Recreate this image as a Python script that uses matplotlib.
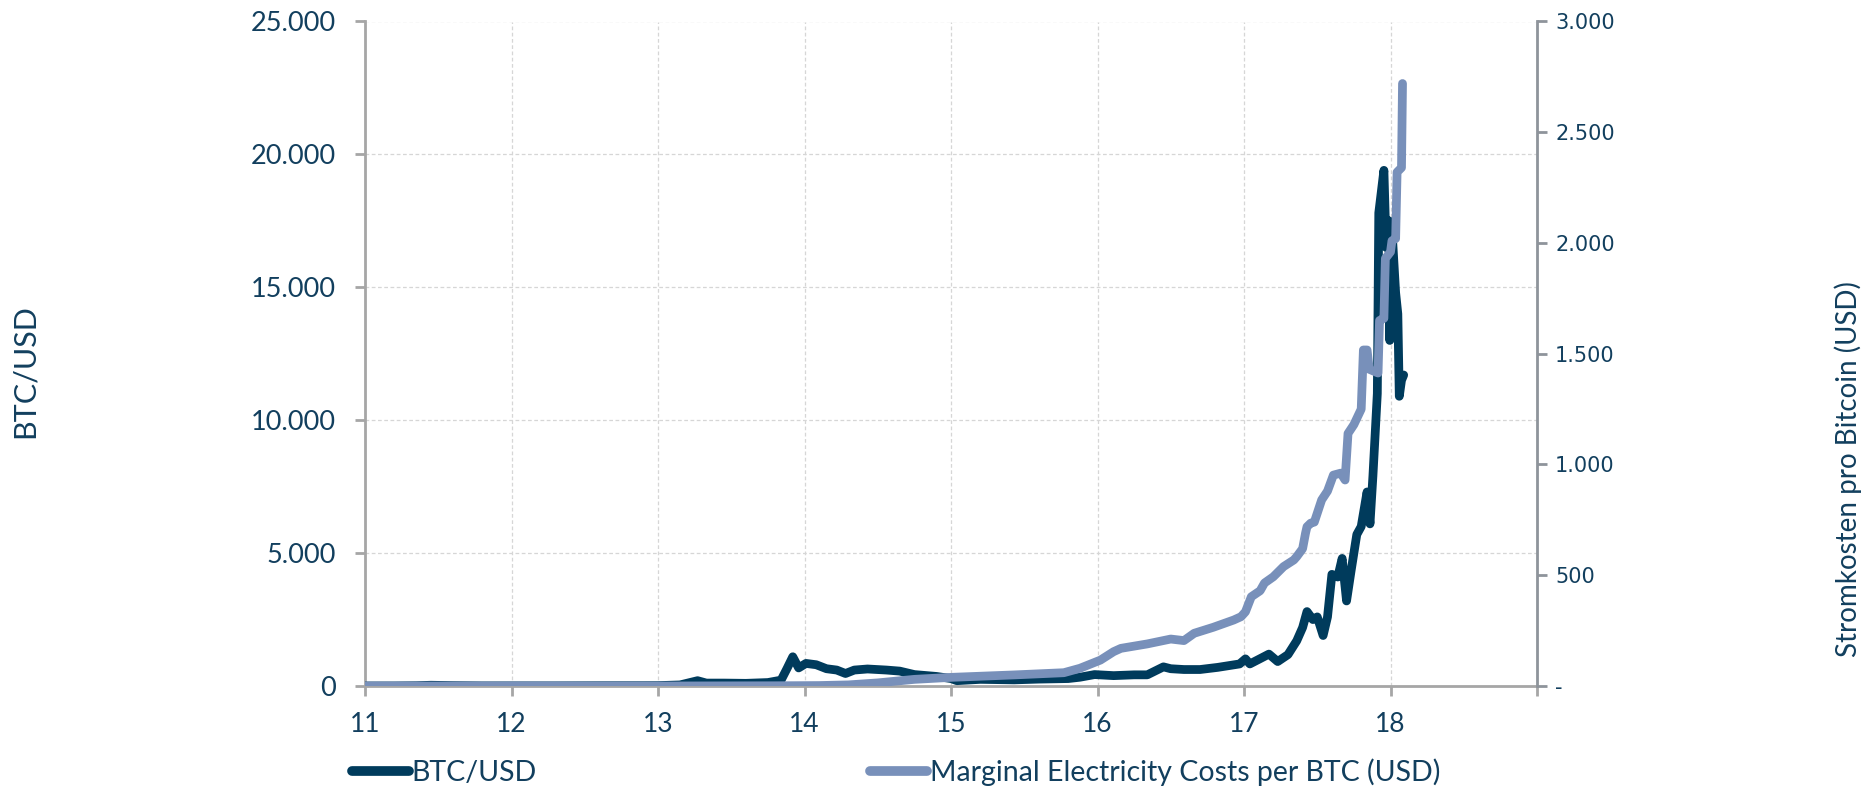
import matplotlib
matplotlib.use("Agg")
import matplotlib.pyplot as plt
from matplotlib.ticker import FixedLocator, FuncFormatter
from matplotlib.lines import Line2D

# ---------------- data ----------------
btc_year = [11.0, 11.2, 11.35, 11.45, 11.6, 11.8, 12.0, 12.3, 12.6, 12.9, 13.0, 13.15,
            13.27, 13.33, 13.45, 13.6, 13.75, 13.84, 13.88, 13.92, 13.96, 14.01, 14.08,
            14.15, 14.22, 14.28, 14.34, 14.43, 14.56, 14.65, 14.75, 14.9, 15.0, 15.04,
            15.2, 15.43, 15.6, 15.8, 15.88, 15.98, 16.11, 16.25, 16.34, 16.45, 16.5,
            16.59, 16.7, 16.82, 16.97, 17.01, 17.04, 17.1, 17.17, 17.23, 17.30, 17.36,
            17.40, 17.43, 17.47, 17.50, 17.54, 17.57, 17.60, 17.64, 17.67, 17.70, 17.73,
            17.77, 17.80, 17.84, 17.86, 17.88, 17.91,
            17.92, 17.955, 17.97, 17.99, 17.995, 18.01, 18.035, 18.05, 18.06, 18.075, 18.09]
btc_usd = [1, 2, 10, 28, 14, 4, 5, 5, 10, 12, 14, 40,
           200, 110, 110, 100, 130, 220, 650, 1100, 680, 850, 800,
           650, 600, 470, 600, 640, 600, 560, 430, 360, 280, 200,
           250, 230, 260, 280, 330, 430, 390, 420, 420, 720, 650,
           620, 620, 700, 830, 1020, 830, 1000, 1200, 920, 1180, 1700,
           2200, 2800, 2500, 2600, 1900, 2600, 4200, 4100, 4800, 3200, 4300,
           5700, 6000, 7300, 6100, 7900, 11000,
           17800, 19400, 16500, 17500, 13000, 17200, 14800, 14000, 10900, 11500, 11700]

elec_year = [11.0, 13.0, 13.8, 14.1, 14.3, 14.5, 14.75, 15.0, 15.43, 15.77, 15.88, 16.02,
             16.11, 16.16, 16.34, 16.5, 16.59, 16.66, 16.79, 16.93, 16.98, 17.01, 17.05,
             17.11, 17.14, 17.20, 17.27, 17.34, 17.36, 17.40, 17.42, 17.43, 17.455, 17.48,
             17.53, 17.57, 17.61, 17.66, 17.69, 17.71, 17.75, 17.80, 17.815, 17.84, 17.855,
             17.915, 17.925, 17.955, 17.965, 18.0, 18.01, 18.035, 18.045, 18.075, 18.082]
elec_cost = [0, 0, 1, 2, 5, 14, 30, 39, 50, 60, 80, 117,
             155, 170, 190, 212, 205, 238, 265, 298, 313, 335, 403,
             430, 465, 493, 539, 569, 584, 620, 690, 719, 735, 740,
             840, 880, 952, 961, 930, 1140, 1180, 1250, 1517, 1517, 1430,
             1413, 1650, 1660, 1930, 1960, 2010, 2020, 2320, 2340, 2720]

x_ticks = [11, 12, 13, 14, 15, 16, 17, 18]
left_ticks = [0, 5000, 10000, 15000, 20000, 25000]
right_ticks = [0, 500, 1000, 1500, 2000, 2500, 3000]

label_left = "BTC/USD"
label_right = "Stromkosten pro Bitcoin (USD)"
legend_btc = "BTC/USD"
legend_elec = "Marginal Electricity Costs per BTC (USD)"

# ---------------- style ----------------
TXT = "#123F5E"
BTC_C = "#003B5C"
EL_C = "#7890BA"
GRID = "#D6D6D6"
SPINE = "#A6A6A6"
SPINE_R = "#8E949B"
FONT = ["Lato", "DejaVu Sans"]

plt.rcParams["font.family"] = FONT

W, H = 1875, 786
fig = plt.figure(figsize=(W / 100, H / 100), dpi=100)
L, R, B, T = 365, 1537, 686, 21.5
ax = fig.add_axes([L / W, 1 - B / H, (R - L) / W, (B - T) / H])
ax2 = ax.twinx()

ax.plot(btc_year, btc_usd, color=BTC_C, lw=6.3, solid_joinstyle="round",
        solid_capstyle="round", zorder=3)
ax2.plot(elec_year, elec_cost, color=EL_C, lw=6.3, solid_joinstyle="round",
         solid_capstyle="round", zorder=3)

ax.set_xlim(11, 19)
ax.set_ylim(0, 25000)
ax2.set_ylim(0, 3000)

ax.xaxis.set_major_locator(FixedLocator(x_ticks + [19]))
ax.set_xticklabels([str(v) for v in x_ticks] + [""])
ax.yaxis.set_major_locator(FixedLocator(left_ticks))
ax.yaxis.set_major_formatter(FuncFormatter(lambda v, p: f"{int(v):,}".replace(",", ".")))
ax2.yaxis.set_major_locator(FixedLocator(right_ticks))
ax2.yaxis.set_major_formatter(FuncFormatter(
    lambda v, p: "-" if v == 0 else f"{int(v):,}".replace(",", ".")))

ax.grid(True, color=GRID, ls=(0, (3, 2)), lw=0.9)
ax.set_axisbelow(True)

for a in (ax, ax2):
    a.spines["top"].set_visible(False)
ax.spines["right"].set_visible(False)
ax.spines["left"].set_color(SPINE)
ax.spines["left"].set_linewidth(2.0)
ax.spines["bottom"].set_color(SPINE)
ax.spines["bottom"].set_linewidth(2.0)
ax2.spines["left"].set_visible(False)
ax2.spines["bottom"].set_visible(False)
ax2.spines["right"].set_color(SPINE_R)
ax2.spines["right"].set_linewidth(2.0)

ax.tick_params(axis="x", direction="out", length=7, width=2, color=SPINE,
               labelsize=19, labelcolor=TXT, pad=12)
ax.tick_params(axis="y", direction="out", length=7, width=2, color=SPINE,
               labelsize=19.5, labelcolor=TXT, pad=14)
ax2.tick_params(axis="y", direction="out", length=7, width=2, color=SPINE_R,
                labelsize=15, labelcolor=TXT, pad=6)
for lab in ax2.get_yticklabels():
    lab.set_fontfamily("DejaVu Sans")

fig.text(25 / W, 1 - 371 / H, label_left, rotation=90, ha="center", va="center",
         fontsize=22, color=TXT)
fig.text(1848 / W, 1 - 469 / H, label_right, rotation=90, ha="center", va="center",
         fontsize=20, color=TXT)

handles = [Line2D([], [], color=BTC_C, lw=7, solid_capstyle="round"),
           Line2D([], [], color=EL_C, lw=7, solid_capstyle="round")]
leg = fig.legend(handles, [legend_btc, legend_elec], loc="center left",
                 bbox_to_anchor=(352 / W, 1 - 772 / H), ncol=2, frameon=False,
                 fontsize=20.5, handlelength=2.0, handletextpad=0.1,
                 columnspacing=11.7, borderpad=0, borderaxespad=0)
for t in leg.get_texts():
    t.set_color(TXT)

fig.savefig("out.png", dpi=100)
